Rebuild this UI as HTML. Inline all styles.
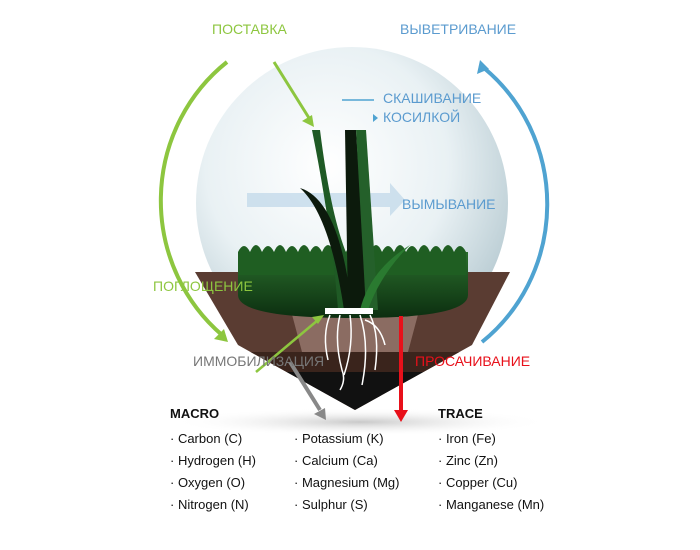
<!DOCTYPE html>
<html><head><meta charset="utf-8"><style>
html,body{margin:0;padding:0;background:#fff;}
svg{display:block;}
text{font-family:"Liberation Sans","Noto Sans CJK SC",sans-serif;}
</style></head><body>
<svg width="700" height="550" viewBox="0 0 700 550" xmlns="http://www.w3.org/2000/svg">
<defs>
<radialGradient id="sph" cx="0.42" cy="0.38" r="0.65">
<stop offset="0" stop-color="#ffffff"/><stop offset="0.6" stop-color="#e9f1f4"/><stop offset="1" stop-color="#b9ccd3"/>
</radialGradient>
<radialGradient id="shd" cx="0.5" cy="0.5" r="0.5">
<stop offset="0" stop-color="#bbb" stop-opacity="0.8"/><stop offset="1" stop-color="#fff" stop-opacity="0"/>
</radialGradient>
<linearGradient id="grn" x1="0" y1="0" x2="0" y2="1">
<stop offset="0" stop-color="#2a6e2c"/><stop offset="1" stop-color="#0c2e10"/>
</linearGradient>
<clipPath id="soil"><polygon points="195,272 510,272 472,345 355,410 238,345"/></clipPath>
</defs>
<ellipse cx="360" cy="422" rx="190" ry="14" fill="url(#shd)"/>
<circle cx="352" cy="203" r="156" fill="url(#sph)"/>
<path d="M227,62 A170,175 0 0 0 222,335" fill="none" stroke="#8dc63f" stroke-width="4"/>
<path d="M228,342 l-14,-3 l10,-10z" fill="#8dc63f"/>
<path d="M484,68 A170,175 0 0 1 482,342" fill="none" stroke="#4fa3d1" stroke-width="4"/>
<path d="M480,60 l-3,14 l12,-5z" fill="#4fa3d1"/>
<path d="M247,193 H390 V183 L405,200 L390,216 V207 H247z" fill="#c7dceb" opacity="0.85"/>
<g clip-path="url(#soil)">
<rect x="190" y="270" width="330" height="145" fill="#5a3c32"/>
<rect x="190" y="352" width="330" height="20" fill="#3a241c"/>
<rect x="190" y="372" width="330" height="45" fill="#111"/>
<polygon points="290,307 420,307 408,352 302,352" fill="#8b6c62"/>
</g>
<path d="M238,252 H468 V295 Q468,318 355,318 Q238,318 238,295z" fill="url(#grn)"/>
<path d="M238,252 q6,-12 12,0 q6,-14 12,0 q6,-12 12,0 q6,-14 12,0 q6,-12 12,0 q6,-14 12,0 q6,-12 12,0 q6,-14 12,0 q6,-12 12,0 q6,-14 12,0 q6,-12 12,0 q6,-14 12,0 q6,-12 12,0 q6,-14 12,0 q6,-12 12,0 q6,-14 12,0 q6,-12 12,0 q6,-14 12,0 q6,-12 12,0 V275 H238z" fill="#1f5e22"/>
<path d="M312,130 L320,130 Q330,210 345,250 L352,310 L338,310 Q332,230 312,130z" fill="#1f5a25"/>
<path d="M345,130 L356,130 L368,310 L348,310z" fill="#0c1a0c"/>
<path d="M356,130 L366,130 L378,310 L366,310z" fill="#24602a"/>
<path d="M300,188 Q340,200 352,310 L344,310 Q330,215 300,188z" fill="#0c1a0c"/>
<path d="M410,245 Q370,270 360,310 L368,310 Q380,275 410,245z" fill="#2a7a30"/>
<rect x="325" y="308" width="48" height="6" fill="#fff"/>
<g stroke="#fff" stroke-width="1.5" fill="none">
<path d="M330,315 q-8,20 -2,45"/><path d="M340,315 q-6,25 2,55 q4,10 -2,20"/><path d="M350,315 q4,30 -6,60"/><path d="M360,315 q10,30 2,70"/><path d="M370,315 q10,20 5,55"/><path d="M365,320 q15,5 20,25"/>
</g>
<line x1="274" y1="62" x2="309" y2="118" stroke="#8dc63f" stroke-width="3"/>
<path d="M314,127 l-12,-6 l10,-6z" fill="#8dc63f"/>
<line x1="256" y1="372" x2="318" y2="320" stroke="#8dc63f" stroke-width="2.5"/>
<path d="M324,315 l-12,2 l6,7z" fill="#8dc63f"/>
<line x1="290" y1="362" x2="320" y2="410" stroke="#888" stroke-width="4"/>
<path d="M326,420 l-12,-6 l11,-6z" fill="#888"/>
<line x1="401" y1="316" x2="401" y2="410" stroke="#e8101a" stroke-width="4"/>
<path d="M394,410 h14 l-7,12z" fill="#e8101a"/>
<line x1="342" y1="100" x2="374" y2="100" stroke="#4fa3d1" stroke-width="1.5"/>
<path d="M373,114 l5,4 l-5,4z" fill="#4fa3d1"/>
<g font-size="14">
<text x="212" y="34" fill="#8dc63f">ПОСТАВКА</text>
<text x="400" y="34" fill="#5b9bcf">ВЫВЕТРИВАНИЕ</text>
<text x="383" y="103" fill="#5b9bcf">СКАШИВАНИЕ</text>
<text x="383" y="122" fill="#5b9bcf">КОСИЛКОЙ</text>
<text x="402" y="209" fill="#5b9bcf">ВЫМЫВАНИЕ</text>
<text x="153" y="291" fill="#8dc63f">ПОГЛОЩЕНИЕ</text>
<text x="193" y="366" fill="#777">ИММОБИЛИЗАЦИЯ</text>
<text x="415" y="366" fill="#e8101a">ПРОСАЧИВАНИЕ</text>
</g>
<g font-size="13" fill="#111">
<text x="170" y="418" font-weight="bold">MACRO</text>
<text x="438" y="418" font-weight="bold">TRACE</text>
<text x="170" y="443">· Carbon (C)</text>
<text x="170" y="465">· Hydrogen (H)</text>
<text x="170" y="487">· Oxygen (O)</text>
<text x="170" y="509">· Nitrogen (N)</text>
<text x="294" y="443">· Potassium (K)</text>
<text x="294" y="465">· Calcium (Ca)</text>
<text x="294" y="487">· Magnesium (Mg)</text>
<text x="294" y="509">· Sulphur (S)</text>
<text x="438" y="443">· Iron (Fe)</text>
<text x="438" y="465">· Zinc (Zn)</text>
<text x="438" y="487">· Copper (Cu)</text>
<text x="438" y="509">· Manganese (Mn)</text>
</g>
</svg>
</body></html>
